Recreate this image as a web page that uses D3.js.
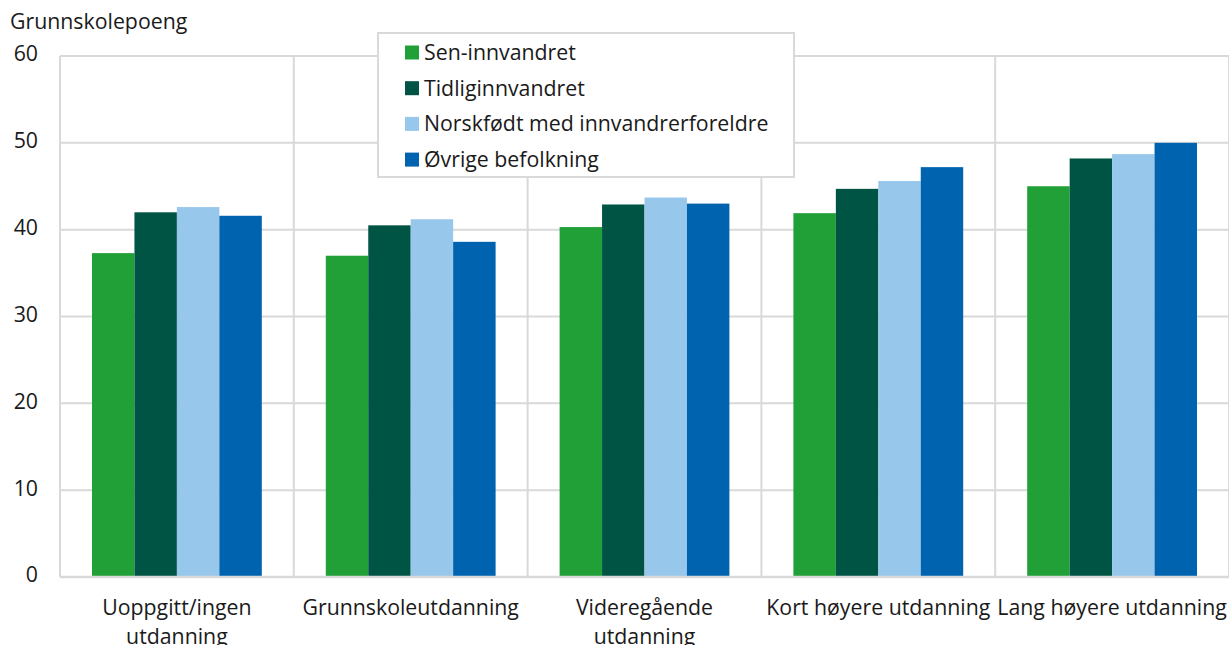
<!DOCTYPE html>
<html>
<head>
<meta charset="utf-8">
<script src="https://cdn.jsdelivr.net/npm/d3@7"></script>
<style>
  html, body { margin: 0; padding: 0; background: #fff; }
  svg { display: block; font-family: "Open Sans", "Noto Sans", sans-serif; }
</style>
</head>
<body>
<svg id="chart" width="1229" height="645"></svg>
<script>
// Grunnskolepoeng etter foreldrenes utdanning og innvandringsbakgrunn
const categories = [
  ["Uoppgitt/ingen", "utdanning"],
  ["Grunnskoleutdanning"],
  ["Videregående", "utdanning"],
  ["Kort høyere utdanning"],
  ["Lang høyere utdanning"]
];
const seriesNames = ["Sen-innvandret", "Tidliginnvandret", "Norskfødt med innvandrerforeldre", "Øvrige befolkning"];
const senInnvandret    = [37.3, 37.0, 40.3, 41.9, 45.0];
const tidligInnvandret = [42.0, 40.5, 42.9, 44.7, 48.2];
const norskfodt        = [42.6, 41.2, 43.7, 45.6, 48.7];
const ovrige           = [41.6, 38.6, 43.0, 47.2, 50.0];
const yTicks = [0, 10, 20, 30, 40, 50, 60];
const colors = ["#21a038", "#005444", "#97c7eb", "#0063af"];

const seriesValues = [senInnvandret, tidligInnvandret, norskfodt, ovrige];
const catKeys = categories.map(c => c.join(" "));

const svg = d3.select("#chart");
const x0 = 60, x1 = 1229, yTop = 56, yBottom = 577;
const fs = 21.3;
const textColor = "#1a1a1a";

const x = d3.scaleBand().domain(catKeys).range([x0, x1]).paddingInner(0).paddingOuter(0);
const groupPad = 32;
const xs = d3.scaleBand().domain(d3.range(seriesNames.length))
  .range([groupPad, x.bandwidth() - groupPad]).padding(0);
const y = d3.scaleLinear().domain([0, 60]).range([yBottom, yTop]);

const grid = "#d9d9d9";

// horizontal gridlines
svg.append("g").selectAll("line").data(yTicks.filter(t => t > 0)).join("line")
  .attr("x1", x0).attr("x2", x1)
  .attr("y1", d => y(d)).attr("y2", d => y(d))
  .attr("stroke", grid).attr("stroke-width", 2);

// vertical gridlines at category boundaries
const bounds = catKeys.map(k => x(k)).concat([x1]);
svg.append("g").selectAll("line").data(bounds).join("line")
  .attr("x1", d => d).attr("x2", d => d)
  .attr("y1", yTop).attr("y2", yBottom)
  .attr("stroke", grid).attr("stroke-width", 2);

// bars
const groups = svg.append("g").selectAll("g").data(catKeys).join("g")
  .attr("transform", d => `translate(${x(d)},0)`);
groups.selectAll("rect")
  .data((d, i) => seriesValues.map((s, j) => ({ j, v: s[i] })))
  .join("rect")
  .attr("x", d => xs(d.j))
  .attr("width", xs.bandwidth())
  .attr("y", d => y(d.v))
  .attr("height", d => y(0) - y(d.v))
  .attr("fill", d => colors[d.j]);

// baseline
svg.append("line")
  .attr("x1", x0).attr("x2", x1).attr("y1", yBottom).attr("y2", yBottom)
  .attr("stroke", grid).attr("stroke-width", 2.5);

// y tick labels
svg.append("g").selectAll("text").data(yTicks).join("text")
  .attr("x", 38).attr("y", d => y(d) - 2)
  .attr("dy", "0.35em")
  .attr("text-anchor", "end")
  .attr("font-size", fs).attr("fill", textColor)
  .text(d => d);

// y axis title
svg.append("text").attr("x", 10).attr("y", 28.5)
  .attr("font-size", fs).attr("fill", textColor)
  .text("Grunnskolepoeng");

// category labels
const catLabels = svg.append("g").selectAll("text").data(categories).join("text")
  .attr("x", (d, i) => x(catKeys[i]) + x.bandwidth() / 2)
  .attr("y", 615)
  .attr("text-anchor", "middle")
  .attr("font-size", fs).attr("fill", textColor);
catLabels.selectAll("tspan").data(d => d).join("tspan")
  .attr("x", function () { return d3.select(this.parentNode).attr("x"); })
  .attr("dy", (d, i) => i === 0 ? 0 : 29)
  .text(d => d);

// legend
const lg = svg.append("g");
lg.append("rect")
  .attr("x", 378).attr("y", 33).attr("width", 416).attr("height", 144)
  .attr("fill", "#fff").attr("stroke", grid).attr("stroke-width", 2);
const items = lg.selectAll("g.item").data(seriesNames).join("g")
  .attr("class", "item")
  .attr("transform", (d, i) => `translate(405,${52.5 + i * 35.7})`);
items.append("rect").attr("x", 0).attr("y", -7).attr("width", 14).attr("height", 14)
  .attr("fill", (d, i) => colors[i]);
items.append("text").attr("x", 19).attr("y", 0).attr("dy", "0.35em")
  .attr("font-size", fs).attr("fill", textColor)
  .text(d => d);
</script>
</body>
</html>
